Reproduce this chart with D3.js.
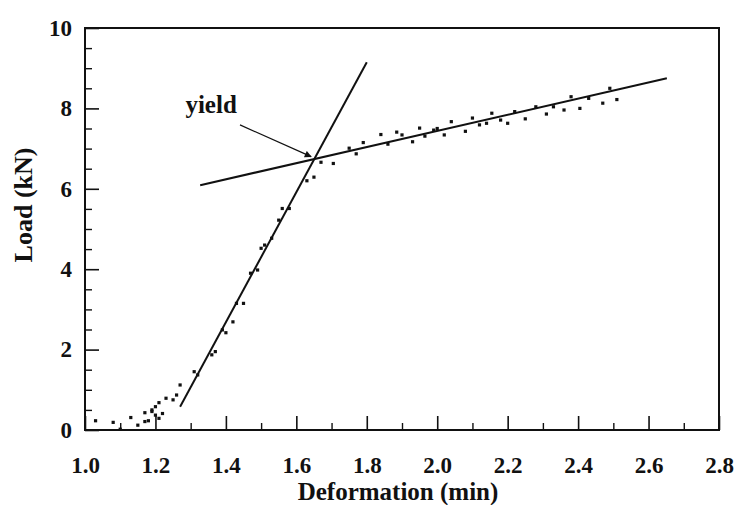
<!DOCTYPE html>
<html>
<head>
<meta charset="utf-8">
<script src="https://cdn.jsdelivr.net/npm/d3@7/dist/d3.min.js"></script>
<style>
  html,body{margin:0;padding:0;background:#fff;}
</style>
</head>
<body>
<svg id="chart" width="735" height="505"></svg>
<script>
// ---- data ------------------------------------------------------------------
const xTicks = [1.0,1.2,1.4,1.6,1.8,2.0,2.2,2.4,2.6,2.8];
const yTicks = [0,2,4,6,8,10];

// measured load / deformation points
const pointsX = [1.03,1.08,1.10,1.13,1.15,1.17,1.17,1.18,1.19,1.19,1.20,1.20,1.21,1.21,1.22,1.23,1.25,1.26,1.27,
  1.31,1.32,1.36,1.37,1.39,1.40,1.42,1.43,1.45,1.47,1.49,1.50,1.51,1.53,1.55,1.56,1.58,1.63,1.65,1.67,1.705,
  1.75,1.77,1.79,1.84,1.86,1.885,1.90,1.93,1.95,1.965,1.99,2.00,2.02,2.04,2.08,2.10,2.12,2.14,2.155,2.18,
  2.20,2.22,2.25,2.28,2.31,2.33,2.36,2.38,2.405,2.43,2.47,2.49,2.51];
const pointsY = [0.23,0.19,0.02,0.31,0.12,0.43,0.21,0.23,0.46,0.50,0.37,0.58,0.29,0.68,0.41,0.79,0.75,0.87,1.12,
  1.45,1.37,1.87,1.95,2.49,2.42,2.69,3.15,3.15,3.90,3.98,4.52,4.60,4.77,5.22,5.51,5.51,6.20,6.29,6.66,6.63,
  7.01,6.87,7.15,7.35,7.11,7.41,7.34,7.17,7.51,7.31,7.46,7.50,7.34,7.67,7.43,7.76,7.59,7.63,7.88,7.71,
  7.63,7.92,7.74,8.04,7.86,8.04,7.96,8.29,8.00,8.25,8.13,8.50,8.22];

// fitted lines (elastic + plastic) and the yield annotation
const elasticLine = [[1.27,0.58],[1.80,9.15]];
const plasticLine = [[1.327,6.09],[2.652,8.75]];
const yieldArrow  = [[1.44,7.59],[1.642,6.80]];
const yieldLabel  = {x:1.358, y:7.89, text:'yield'};

const FONT = "'Liberation Serif','Times New Roman','DejaVu Serif',serif";

// ---- layout ---------------------------------------------------------------
const svg = d3.select('#chart');
const M = {left:85, right:16, top:28, bottom:75};
const W = 735, H = 505;

const x = d3.scaleLinear().domain([1.0,2.8]).range([M.left, W-M.right]);
const y = d3.scaleLinear().domain([0,10]).range([H-M.bottom, M.top]);

const defs = svg.append('defs');
defs.append('marker')
  .attr('id','arrowHead')
  .attr('viewBox','0 0 10 10')
  .attr('refX',9).attr('refY',5)
  .attr('markerWidth',9).attr('markerHeight',7)
  .attr('markerUnits','userSpaceOnUse')
  .attr('orient','auto')
  .append('path').attr('d','M0,0 L10,5 L0,10 z').attr('fill','#111');

// frame
svg.append('rect')
  .attr('x',x(1.0)).attr('y',y(10))
  .attr('width',x(2.8)-x(1.0)).attr('height',y(0)-y(10))
  .attr('fill','none').attr('stroke','#111').attr('stroke-width',2);

function styleText(sel, size){
  sel.style('font-family',FONT).style('font-weight','bold')
     .style('font-size',size+'px').attr('fill','#111');
}

// x ticks (inward), major + minor
const xMinor = d3.range(1.1,2.8,0.2);
const xAxis = svg.append('g').attr('transform',`translate(0,${y(0)})`)
  .call(d3.axisBottom(x).tickValues(xTicks).tickSize(-14).tickFormat(d3.format('.1f')));
xAxis.select('.domain').remove();
xAxis.selectAll('.tick line').attr('stroke','#111').attr('stroke-width',1.6);
xAxis.selectAll('.tick text').attr('y',27).call(styleText,23);
svg.append('g').attr('transform',`translate(0,${y(0)})`)
  .call(d3.axisBottom(x).tickValues(xMinor).tickSize(-7).tickFormat(''))
  .call(g=>g.select('.domain').remove())
  .selectAll('.tick line').attr('stroke','#111').attr('stroke-width',1.4);

// y ticks
const yMinor = d3.range(0.5,10,0.5).filter(v=>v%2!==0);
const yAxis = svg.append('g').attr('transform',`translate(${x(1.0)},0)`)
  .call(d3.axisLeft(y).tickValues(yTicks).tickSize(-14).tickFormat(d3.format('d')));
yAxis.select('.domain').remove();
yAxis.selectAll('.tick line').attr('stroke','#111').attr('stroke-width',1.6);
yAxis.selectAll('.tick text').attr('x',-13).call(styleText,23);
svg.append('g').attr('transform',`translate(${x(1.0)},0)`)
  .call(d3.axisLeft(y).tickValues(yMinor).tickSize(-7).tickFormat(''))
  .call(g=>g.select('.domain').remove())
  .selectAll('.tick line').attr('stroke','#111').attr('stroke-width',1.4);

// axis titles
svg.append('text')
  .attr('x',(x(1.0)+x(2.8))/2-4).attr('y',500)
  .attr('text-anchor','middle')
  .text('Deformation (min)').call(styleText,25);
svg.append('text')
  .attr('transform','translate(32,205) rotate(-90)')
  .attr('text-anchor','middle')
  .text('Load (kN)').call(styleText,26);

// data points
const pts = d3.zip(pointsX, pointsY);
svg.append('g').selectAll('rect').data(pts).join('rect')
  .attr('x',d=>x(d[0])-1.6).attr('y',d=>y(d[1])-1.6)
  .attr('width',3.2).attr('height',3.2)
  .attr('fill','#111');

// fitted lines
const line = d3.line().x(d=>x(d[0])).y(d=>y(d[1]));
[elasticLine, plasticLine].forEach(l=>{
  svg.append('path').attr('d',line(l))
    .attr('fill','none').attr('stroke','#111').attr('stroke-width',2);
});

// yield annotation
svg.append('path').attr('d',line(yieldArrow))
  .attr('fill','none').attr('stroke','#111').attr('stroke-width',1.2)
  .attr('marker-end','url(#arrowHead)');
svg.append('text')
  .attr('x',x(yieldLabel.x)).attr('y',y(yieldLabel.y))
  .attr('text-anchor','middle')
  .text(yieldLabel.text).call(styleText,25);
</script>
</body>
</html>
